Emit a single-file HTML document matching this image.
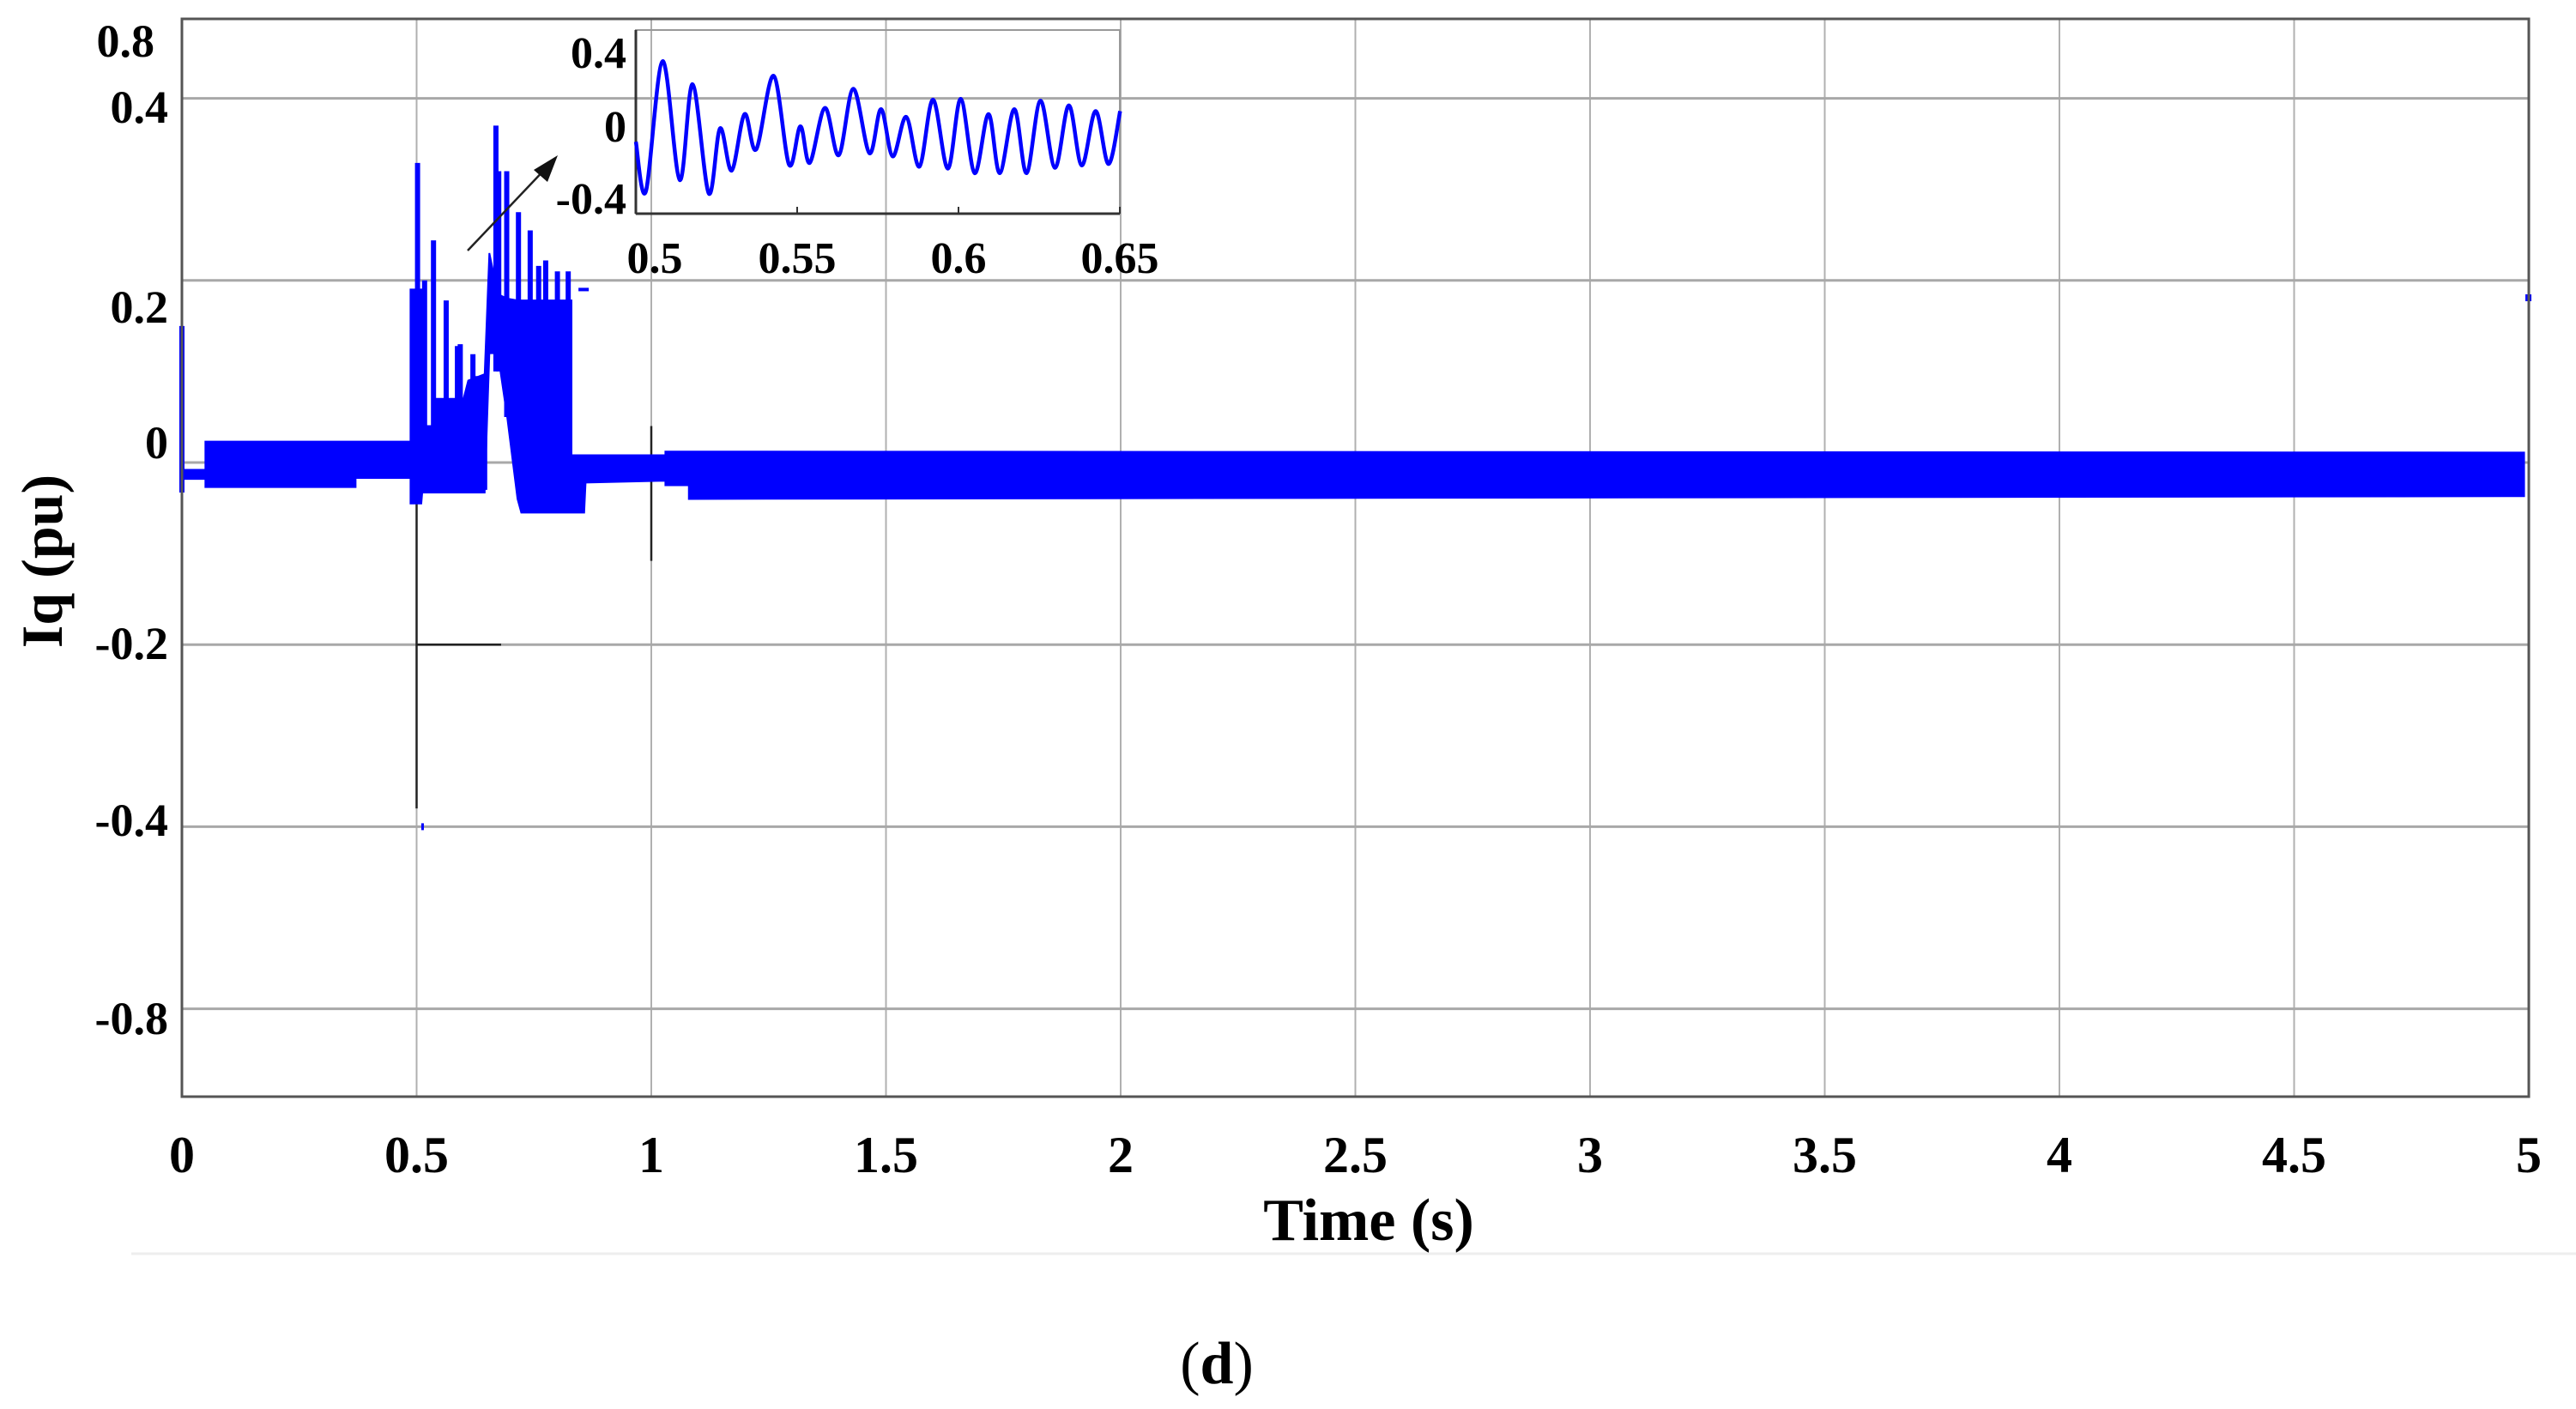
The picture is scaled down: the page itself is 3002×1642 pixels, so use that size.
<!DOCTYPE html>
<html><head><meta charset="utf-8"><style>
html,body{margin:0;padding:0;background:#fff;}
svg text{font-family:"Liberation Serif",serif;font-weight:bold;fill:#000;}
</style></head><body>
<svg id="chart" width="3002" height="1637" viewBox="0 0 3002 1637" xmlns="http://www.w3.org/2000/svg">
<g id="grid"></g>
<g id="series"></g>
<g id="inset"></g>
<g id="axes"></g>
</svg>
<script>
// main x ticks
const xTicks=[0,0.5,1,1.5,2,2.5,3,3.5,4,4.5,5];
const xTickLabels=["0","0.5","1","1.5","2","2.5","3","3.5","4","4.5","5"];
// y gridline values and printed labels
const yGrid=[0.4,0.2,0,-0.2,-0.4,-0.6];
const yTickLabels=["0.4","0.2","0","-0.2","-0.4","-0.8"];
// envelope of fast-oscillating Iq signal
const envT =[0,0.05,0.05,0.37,0.37,0.487,0.487,0.51,0.512,0.536,0.54,0.6,0.61,0.645,0.655,0.673,0.693,0.715,0.723,0.83,0.83,0.857,0.86,1.03,1.03,1.08,1.08,4.99];
const envHi=[-0.008,-0.008,0.023,0.023,0.023,0.023,0.19,0.19,0.04,0.04,0.07,0.07,0.09,0.097,0.23,0.185,0.18,0.178,0.178,0.178,0.008,0.008,0.008,0.008,0.012,0.012,0.012,0.011];
const envLo=[-0.018,-0.018,-0.027,-0.027,-0.017,-0.017,-0.045,-0.045,-0.033,-0.033,-0.033,-0.033,-0.033,-0.033,0.12,0.12,0.05,-0.04,-0.055,-0.055,-0.055,-0.055,-0.022,-0.02,-0.025,-0.025,-0.04,-0.037];
// transient spikes
const spikeT=[0,0.502,0.517,0.536,0.563,0.587,0.593,0.62,0.629,0.645,0.669,0.675,0.692,0.717,0.742,0.76,0.775,0.8,0.823];
const spikeTop=[0.15,0.329,0.2,0.244,0.178,0.128,0.13,0.119,0.095,0.097,0.37,0.32,0.32,0.275,0.255,0.216,0.222,0.21,0.21];
const spikeBot=[-0.033,-0.045,-0.03,-0.03,-0.03,-0.03,-0.03,-0.03,-0.03,-0.03,0.1,0.1,0.05,0,-0.02,-0.02,-0.02,-0.02,-0.02];
// inset waveform extrema
const insT=[0.5,0.5031,0.5083,0.5136,0.5176,0.5226,0.5261,0.5297,0.5337,0.5373,0.5427,0.5475,0.551,0.5539,0.5586,0.5629,0.5674,0.5724,0.576,0.5796,0.5838,0.5879,0.5921,0.5967,0.6007,0.605,0.6093,0.6128,0.6173,0.6211,0.6254,0.6299,0.6342,0.6382,0.6425,0.6465,0.6501];
const insV=[-0.079,-0.331,0.329,-0.273,0.212,-0.341,-0.011,-0.225,0.061,-0.118,0.255,-0.196,-0.001,-0.186,0.092,-0.147,0.189,-0.137,0.086,-0.153,0.047,-0.205,0.134,-0.215,0.138,-0.238,0.061,-0.238,0.086,-0.238,0.129,-0.211,0.105,-0.199,0.076,-0.192,0.076];
const insXTicks=[0.5,0.55,0.6,0.65];
const insXLabels=["0.5","0.55","0.6","0.65"];
const insYTicks=[0.4,0,-0.4];
const insYLabels=["0.4","0","-0.4"];

const NS="http://www.w3.org/2000/svg";
const L=212,R=2947,T=22,B=1278;
const x=t=>L+(R-L)*t/5;
const y=v=>539-v*1061;
const ix=t=>741+(t-0.5)*3760;
const iy=v=>147-v*230;
function mk(tag,attrs,parent,txt){const e=document.createElementNS(NS,tag);for(const k in attrs)e.setAttribute(k,attrs[k]);if(txt!==undefined)e.textContent=txt;parent.appendChild(e);return e;}
const grid=document.getElementById('grid'),ser=document.getElementById('series'),ins=document.getElementById('inset'),ax=document.getElementById('axes');

xTicks.forEach((t,i)=>{
  const g=mk('line',{x1:x(t),x2:x(t),y1:T,y2:B,stroke:'#b0b0b0','stroke-width':2},grid);
  
  
  const lb=mk('text',{x:x(t),y:1366,'font-size':60,'text-anchor':'middle'},ax,xTickLabels[i]);
  
  
});
yGrid.forEach((v,i)=>{
  const g=mk('line',{x1:L,x2:R,y1:y(v),y2:y(v),stroke:'#a8a8a8','stroke-width':3},grid);
  
  
});
const yLabPos=[125,358,516,750,956,1187];
yTickLabels.forEach((s,i)=>{
  const lb=mk('text',{x:196,y:yLabPos[i]+18,'font-size':54,'text-anchor':'end'},ax,s);
  
  
});
const top8=mk('text',{x:180,y:66,'font-size':54,'text-anchor':'end'},ax,"0.8");



// frame
const fr=mk('rect',{x:L,y:T,width:R-L,height:B-T,fill:'none',stroke:'#555','stroke-width':3},ax);



// black reference lines
const bl=[[x(0.5),y(0),x(0.5),y(-0.38)],[x(0.5),y(-0.2),x(0.68),y(-0.2)],[x(1),y(0.04),x(1),y(-0.108)],[x(0),y(-0.01),x(0.05),y(-0.01)]];
bl.forEach(b=>{const l=mk('line',{x1:b[0],y1:b[1],x2:b[2],y2:b[3],stroke:'#222','stroke-width':2.5},ser);

});

// envelope polygon
let pts=[];
for(let i=0;i<envT.length;i++)pts.push(x(envT[i])+','+y(envHi[i]));
for(let i=envT.length-1;i>=0;i--)pts.push(x(envT[i])+','+y(envLo[i]));
const env=mk('polygon',{points:pts.join(' '),fill:'#0000ff',stroke:'#0000ff','stroke-width':2},ser);


spikeT.forEach((t,i)=>{
  const s=mk('line',{x1:x(t),x2:x(t),y1:y(spikeBot[i]),y2:y(spikeTop[i]),stroke:'#0000ff','stroke-width':6},ser);
  
  
});
const d1=mk('rect',{x:x(0.854)-5,y:y(0.19)-2,width:12,height:4,fill:'#0000ff'},ser);


const d2=mk('rect',{x:x(5)-4,y:y(0.18)-5,width:7,height:8,fill:'#0000ff'},ser);


const d3=mk('rect',{x:x(0.51),y:y(-0.4)-4,width:3,height:8,fill:'#0000ff'},ser);



// arrow
const ar=mk('line',{x1:545,y1:292,x2:640,y2:192,stroke:'#222','stroke-width':2.5},ax);


const ah=mk('polygon',{points:'650,181 622,198 638,212',fill:'#111'},ax);



// inset
const ib=mk('rect',{x:741,y:35,width:564,height:214,fill:'none',stroke:'#999','stroke-width':2},ins);


mk('line',{x1:741,y1:35,x2:741,y2:249,stroke:'#333','stroke-width':3},ins);
mk('line',{x1:741,y1:249,x2:1305,y2:249,stroke:'#333','stroke-width':3},ins);
insXTicks.forEach((t,i)=>{
  mk('line',{x1:ix(t),x2:ix(t),y1:249,y2:241,stroke:'#333','stroke-width':2},ins);
  const lb=mk('text',{x:ix(t)+(i==0?22:0),y:318,'font-size':52,'text-anchor':'middle'},ins,insXLabels[i]);
  
  
});
insYTicks.forEach((v,i)=>{
  const lb=mk('text',{x:730,y:iy(v)+18+(i==0?6:0)+(i==2?-8:0),'font-size':52,'text-anchor':'end'},ins,insYLabels[i]);
  
  
});
// smooth curve through extrema (Catmull-Rom)
const P=insT.map((t,i)=>[ix(t),iy(insV[i])]);
let d='M'+P[0][0]+','+P[0][1];
for(let i=0;i<P.length-1;i++){
  const p0=P[Math.max(0,i-1)],p1=P[i],p2=P[i+1],p3=P[Math.min(P.length-1,i+2)];
  const c1=[p1[0]+(p2[0]-p0[0])/6,p1[1]+(p2[1]-p0[1])/6];
  const c2=[p2[0]-(p3[0]-p1[0])/6,p2[1]-(p3[1]-p1[1])/6];
  d+=' C'+c1[0]+','+c1[1]+' '+c2[0]+','+c2[1]+' '+p2[0]+','+p2[1];
}
const wave=mk('path',{d:d,fill:'none',stroke:'#0000ff','stroke-width':4.5},ins);



// titles
const xt=mk('text',{x:1595,y:1445,'font-size':70,'text-anchor':'middle'},ax,"Time (s)");


const yt=mk('text',{x:0,y:0,'font-size':68,'text-anchor':'middle',transform:'translate(72,654) rotate(-90)'},ax,"Iq (pu)");


const sep=mk('line',{x1:153,x2:3002,y1:1461,y2:1461,stroke:'#eeeeee','stroke-width':3},ax);


const cap=mk('text',{x:1418,y:1612,'font-size':70,'text-anchor':'middle'},ax);


mk('tspan',{'font-weight':'normal'},cap,"(");
mk('tspan',{},cap,"d");
mk('tspan',{'font-weight':'normal'},cap,")");
</script>
</body></html>
